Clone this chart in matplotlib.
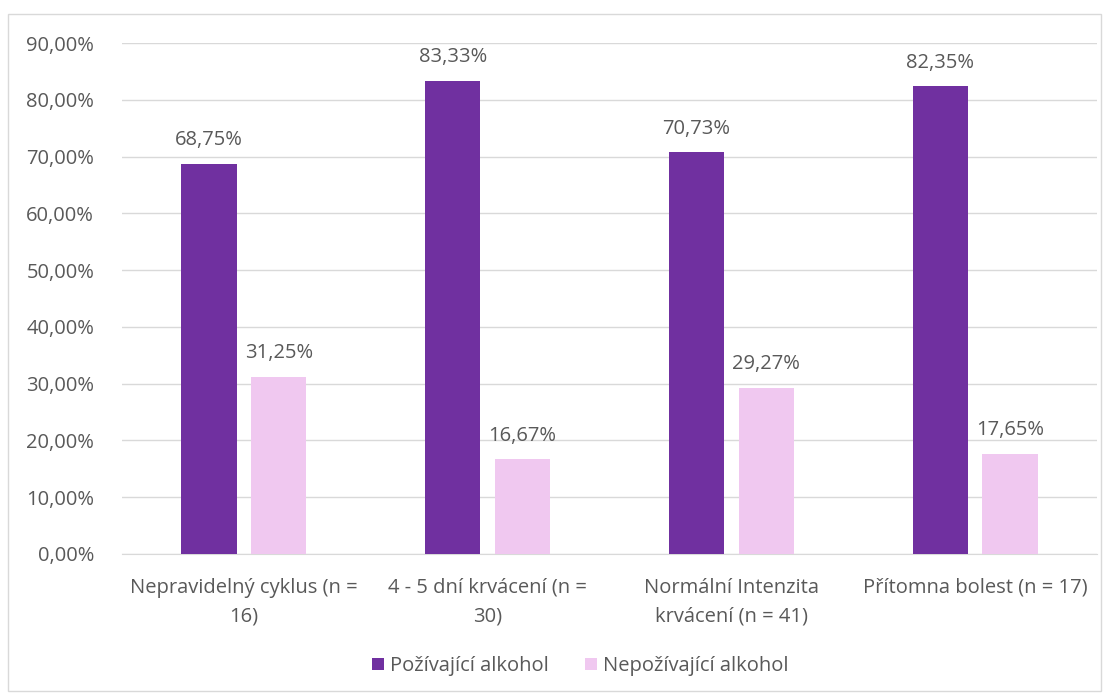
import matplotlib
matplotlib.use("Agg")
import matplotlib.pyplot as plt
from matplotlib.patches import Rectangle
from matplotlib.ticker import FuncFormatter
import numpy as np

categories = ["Nepravidelný cyklus (n =\n16)", "4 - 5 dní krvácení (n =\n30)",
              "Normální Intenzita\nkrvácení (n = 41)", "Přítomna bolest (n = 17)"]
drinkers = [68.75, 83.33, 70.73, 82.35]
non_drinkers = [31.25, 16.67, 29.27, 17.65]
series_names = ["Požívající alkohol", "Nepožívající alkohol"]

plt.rcParams['font.family'] = ['Open Sans', 'DejaVu Sans']
text_color = "#595959"
fs = 14.5

fig = plt.figure(figsize=(11.09, 7.0), dpi=100)
fig.patches.append(Rectangle((8 / 1109, 1 - 691 / 700), 1093 / 1109, 677 / 700,
                             transform=fig.transFigure, fill=False,
                             edgecolor="#d9d9d9", linewidth=1.0))
ax = fig.add_axes([122 / 1109, 1 - 554 / 700, 975 / 1109, 511 / 700])

x = np.arange(len(categories))
w = 0.226
gap = 0.06
off = (w + gap) / 2
b1 = ax.bar(x - off, drinkers, w, color="#7030A0", label=series_names[0], zorder=3)
b2 = ax.bar(x + off, non_drinkers, w, color="#F0C8F0", label=series_names[1], zorder=3)

for bars, vals in ((b1, drinkers), (b2, non_drinkers)):
    for r, v in zip(bars, vals):
        ax.text(r.get_x() + r.get_width() / 2, v + 2.4, f"{v:.2f}%".replace(".", ","),
                ha="center", va="bottom", fontsize=fs, color=text_color)

ax.set_ylim(0, 90)
ax.set_xlim(-0.5, len(categories) - 0.5)
ax.set_yticks(np.arange(0, 91, 10))
ax.yaxis.set_major_formatter(FuncFormatter(lambda v, p: f"{v:.2f}%".replace(".", ",")))
ax.grid(axis="y", color="#d9d9d9", linewidth=1.0, zorder=0)
ax.set_xticks(x)
ax.set_xticklabels(categories, fontsize=fs, color=text_color, linespacing=1.6)
ax.tick_params(axis="both", length=0, labelcolor=text_color, labelsize=fs)
ax.tick_params(axis="x", pad=17)
ax.tick_params(axis="y", pad=20)
for s in ("top", "right", "left"):
    ax.spines[s].set_visible(False)
ax.spines["bottom"].set_color("#d9d9d9")

leg = fig.legend(handles=[b1, b2], loc="center", bbox_to_anchor=(580 / 1109, 1 - 666 / 700),
                 ncol=2, frameon=False, fontsize=fs, handlelength=0.6, handleheight=0.6,
                 handletextpad=0.3, columnspacing=1.8)
for t in leg.get_texts():
    t.set_color(text_color)

fig.savefig("out.png", dpi=100)
